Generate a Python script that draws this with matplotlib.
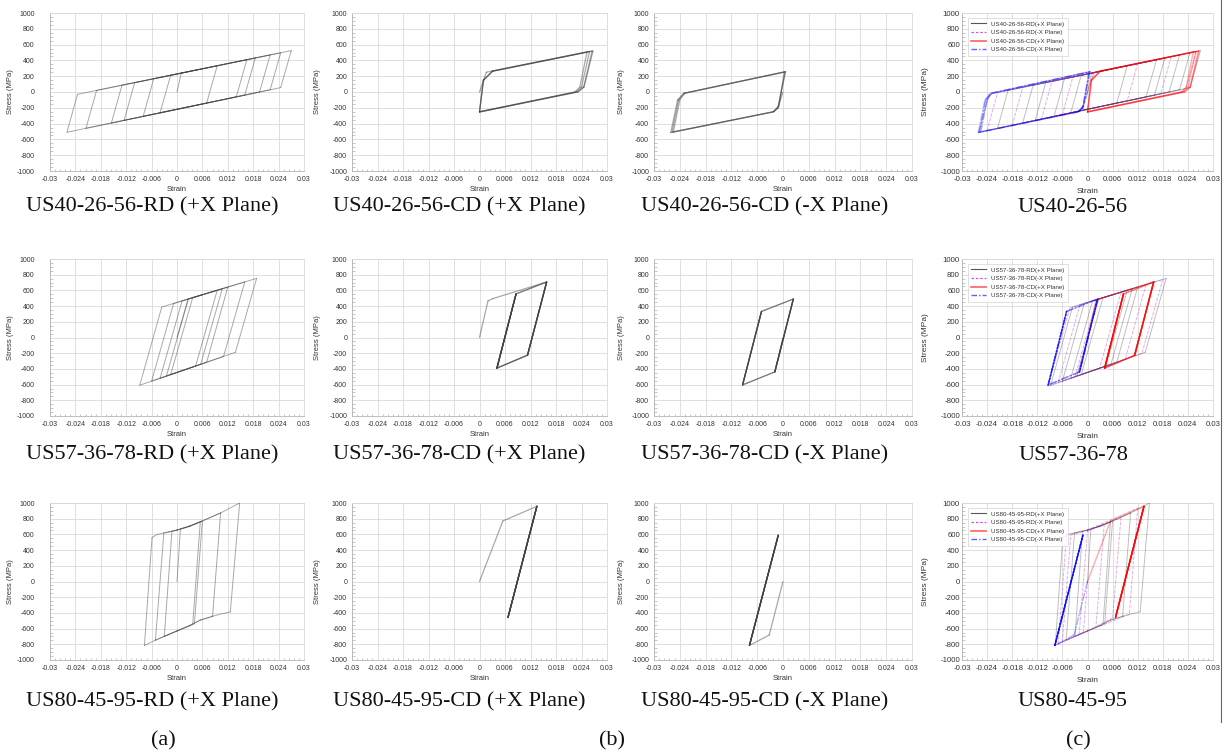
import numpy as np
import matplotlib
matplotlib.use("Agg")
import matplotlib.pyplot as plt
from matplotlib.collections import LineCollection
from matplotlib.lines import Line2D
from matplotlib.ticker import MultipleLocator

plt.rcParams['font.family'] = ['Liberation Sans', 'DejaVu Sans']

# ---------------- data ----------------
specimens = ["US40-26-56", "US57-36-78", "US80-45-95"]
panel_letters = ["(a)", "(b)", "(c)"]

x_ticks = [-0.03, -0.024, -0.018, -0.012, -0.006, 0.0, 0.006, 0.012, 0.018, 0.024, 0.03]
x_tick_labels = ["-0.03", "-0.024", "-0.018", "-0.012", "-0.006", "0",
                 "0.006", "0.012", "0.018", "0.024", "0.03"]
y_ticks = [-1000, -800, -600, -400, -200, 0, 200, 400, 600, 800, 1000]
y_tick_labels = ["-1000", "-800", "-600", "-400", "-200", "0",
                 "200", "400", "600", "800", "1000"]

# US40-26-56
rd40_px_strain = [0.0, 0.0010, 0.0095, 0.0070, -0.0080, -0.0055, 0.0185, 0.0160, -0.0155, -0.0130,
                  0.0220, 0.0195, -0.0215, -0.0190, 0.0245, 0.0220, -0.0260, -0.0235, 0.0270, 0.0245,
                  -0.0125, -0.0100, 0.0165, 0.0140, -0.0040, -0.0015, 0.0050]
rd40_px_stress = [0, 239, 332, -140, -309, 168, 431, -40, -393, 86,
                  469, 0, -460, 20, 497, 28, -510, -29, 524, 56,
                  -359, 118, 409, -62, -264, 212, 283]
rd40_mx_strain = [0.0, -0.0012, -0.0110, -0.0085, 0.0120, 0.0095, -0.0180, -0.0155, 0.0200,
                  0.0175, -0.0240, -0.0215, 0.0260, 0.0235, -0.0060, -0.0035, 0.0030]
rd40_mx_stress = [0, -232, -342, 135, 360, -113, -421, 58, 447,
                  -23, -488, -8, 513, 44, -286, 190, 261]
cd40_px_strain = [0.0, 0.0016, 0.0031, 0.0253, 0.0236, 0.0224, 0.0, 0.0010, 0.0031, 0.0259,
                  0.0240, 0.0228, 0.0, 0.0009, 0.0030, 0.0267, 0.0246, 0.0231, 0.0, 0.0009,
                  0.0031, 0.0265, 0.0245, 0.0232, 0.0]
cd40_px_stress = [0, 250, 268, 508, 60, 0, -250, 150, 262, 513,
                  62, 3, -252, 152, 262, 519, 64, 0, -255, 149,
                  266, 518, 62, 2, -250]
cd40_mx_strain = [0.0, -0.0012, -0.0025, -0.0255, -0.0240, -0.0228, 0.0003, -0.0010, -0.0021,
                  -0.0261, -0.0245, -0.0231, 0.0006, -0.0011, -0.0022, -0.0258, -0.0243, -0.0230,
                  0.0005, -0.0011, -0.0021]
cd40_mx_stress = [0, -210, -255, -505, -100, -15, 252, -180, -248,
                  -513, -100, -17, 258, -186, -250, -510, -100, -16,
                  256, -185, -246]

# US57-36-78
rd57_px_strain = [0.0, 0.0026, 0.0095, 0.0044, -0.0025, 0.0027, 0.0107, 0.0056, -0.0040, 0.0012,
                  0.0160, 0.0110, -0.0060, -0.0008, 0.0188, 0.0138, -0.0088, -0.0036, 0.0120, 0.0070,
                  -0.0015, 0.0037, 0.0060]
rd57_px_stress = [0, 489, 602, -363, -491, 491, 621, -341, -519, 466,
                  708, -241, -556, 434, 753, -189, -608, 388, 643, -316,
                  -473, 507, 545]
rd57_mx_strain = [0.0, -0.0026, -0.0070, -0.0018, 0.0140, 0.0090, -0.0095, -0.0042, 0.0180,
                  0.0130, -0.0030, 0.0022, 0.0080, 0.0029, -0.0050]
rd57_mx_stress = [0, -493, -575, 418, 675, -279, -621, 378, 740,
                  -204, -500, 482, 577, -391, -538]
cd57_px_strain = [0.0, 0.0020, 0.0031, 0.0158, 0.0113, 0.0041, 0.0086, 0.0158, 0.0113, 0.0158,
                  0.0113, 0.0041, 0.0086, 0.0041, 0.0086, 0.0041, 0.0086, 0.0158, 0.0113, 0.0158,
                  0.0113, 0.0041, 0.0086, 0.0041, 0.0086]
cd57_px_stress = [0, 466, 495, 707, -225, -390, 555, 707, -225, 707,
                  -225, -390, 555, -390, 555, -390, 555, 707, -225, 707,
                  -225, -390, 555, -390, 555]
cd57_mx_strain = [0.0, -0.0019, -0.0094, -0.0050, 0.0024, -0.0019, 0.0024, -0.0019, -0.0094,
                  -0.0050, -0.0094, -0.0050, -0.0094, -0.0050, 0.0024, -0.0019, 0.0024, -0.0019]
cd57_mx_stress = [0, -438, -604, 332, 490, -438, 490, -438, -604,
                  332, -604, 332, -604, 332, 490, -438, 490, -438]

# US80-45-95
rd80_px_strain = [0.0, 0.0008, 0.0030, 0.0055, 0.0037, 0.0000, -0.0020, -0.0051, -0.0031, 0.0000,
                  0.0030, 0.0055, 0.0103, 0.0084, 0.0055, 0.0030, 0.0000, -0.0020, -0.0050, -0.0077,
                  -0.0059, -0.0047, -0.0020, 0.0000, 0.0030, 0.0055, 0.0103, 0.0148, 0.0126, 0.0085,
                  0.0055, 0.0030, 0.0000, -0.0030, -0.0012, 0.0000, 0.0030, 0.0060, 0.0041]
rd80_px_stress = [0, 668, 705, 760, -550, -630, -675, -748, 619, 655,
                  705, 760, 873, -445, -492, -560, -630, -675, -745, -814,
                  560, 600, 630, 655, 705, 760, 873, 1000, -386, -440,
                  -492, -560, -630, -700, 640, 655, 705, 772, -545]
rd80_mx_strain = [0.0, -0.0010, -0.0060, -0.0040, 0.0000, 0.0080, 0.0060, 0.0000, -0.0070,
                  -0.0050, 0.0000, 0.0120, 0.0100, 0.0000, -0.0020, 0.0000, 0.0040, 0.0020]
rd80_mx_stress = [0, -652, -770, 590, 655, 815, -465, -630, -795,
                  595, 655, 935, -418, -630, -675, 640, 730, -590]
cd80_px_strain = [0.0, 0.0055, 0.0135, 0.0067, 0.0135, 0.0067, 0.0135, 0.0067, 0.0135,
                  0.0067, 0.0135, 0.0067, 0.0135]
cd80_px_stress = [0, 771, 958, -458, 958, -458, 958, -458, 958,
                  -458, 958, -458, 958]
cd80_mx_strain = [0.0, -0.0032, -0.0078, -0.0011, -0.0078, -0.0011, -0.0078, -0.0011,
                  -0.0078, -0.0011, -0.0078, -0.0011]
cd80_mx_stress = [0, -682, -814, 589, -814, 589, -814, 589,
                  -814, 589, -814, 589]

# tables built from the arrays above
rd_px = [(rd40_px_strain, rd40_px_stress), (rd57_px_strain, rd57_px_stress), (rd80_px_strain, rd80_px_stress)]
rd_mx = [(rd40_mx_strain, rd40_mx_stress), (rd57_mx_strain, rd57_mx_stress), (rd80_mx_strain, rd80_mx_stress)]
cd_px = [(cd40_px_strain, cd40_px_stress), (cd57_px_strain, cd57_px_stress), (cd80_px_strain, cd80_px_stress)]
cd_mx = [(cd40_mx_strain, cd40_mx_stress), (cd57_mx_strain, cd57_mx_stress), (cd80_mx_strain, cd80_mx_stress)]

# ---------------- drawing ----------------
W, H = 1224, 755
fig = plt.figure(figsize=(W / 100, H / 100), dpi=100)
fig.patch.set_facecolor('white')

col_px = [(50, 304), (352, 607), (654, 912), (962, 1213)]
row_px = [(13, 171), (259, 416), (503, 660)]
ytick_pad = [11, 3.5, 3.5, 1.5]
ylabel_x = [-0.142, -0.122, -0.112, -0.131]
title_x = [152, 459, 765, 1073]
title_y = [207, 455, 702]
letter_pos = [(163, 741), (612, 741), (1078, 741)]


def draw_path(ax, data, color, alpha, lw, ls='-'):
    strain, stress = data
    pts = np.column_stack([strain, stress])
    segs = np.stack([pts[:-1], pts[1:]], axis=1)
    lc = LineCollection(segs, colors=color, linewidths=lw, alpha=alpha,
                        linestyles=ls, capstyle='round', joinstyle='round', zorder=3)
    ax.add_collection(lc)


def style_axes(ax, c):
    big = (c == 3)
    fs_tick = 5.6 if big else 5.0
    fs_lab = 6.0 if big else 5.5
    ax.set_xlim(-0.03, 0.03)
    ax.set_ylim(-1000, 1000)
    ax.set_xticks(x_ticks)
    ax.set_xticklabels(x_tick_labels)
    ax.set_yticks(y_ticks)
    ax.set_yticklabels(y_tick_labels)
    ax.xaxis.set_minor_locator(MultipleLocator(0.0012))
    ax.yaxis.set_minor_locator(MultipleLocator(50))
    ax.set_axisbelow(True)
    ax.grid(True, which='major', color='#d9d9d9', lw=0.6)
    ax.tick_params(which='major', length=0, labelsize=fs_tick, colors='#333333')
    ax.tick_params(axis='y', which='major', pad=ytick_pad[c])
    ax.tick_params(axis='x', which='major', pad=3.5)
    ax.tick_params(which='minor', direction='in', length=1.8, width=0.4, color='#9a9a9a')
    for side in ['top', 'right']:
        ax.spines[side].set_color('#d9d9d9')
        ax.spines[side].set_linewidth(0.6)
    for side in ['left', 'bottom']:
        ax.spines[side].set_color('#b5b5b5')
        ax.spines[side].set_linewidth(0.6)
    ax.set_xlabel('Strain', fontsize=fs_lab, color='#333333')
    ax.set_ylabel('Stress (MPa)', fontsize=fs_lab, color='#333333')
    ax.xaxis.set_label_coords(0.5, -0.095 if not big else -0.11)
    ax.yaxis.set_label_coords(ylabel_x[c], 0.5)


grey = '#404040'
for r in range(3):
    name = specimens[r]
    titles = [f"{name}-RD (+X Plane)", f"{name}-CD (+X Plane)", f"{name}-CD (-X Plane)", name]
    for c in range(4):
        l, rt = col_px[c]
        t, b = row_px[r]
        ax = fig.add_axes([l / W, 1 - b / H, (rt - l) / W, (b - t) / H])
        style_axes(ax, c)
        if c == 0:
            draw_path(ax, rd_px[r], grey, 0.45, 0.7)
        elif c == 1:
            draw_path(ax, cd_px[r], grey, 0.45, 0.9)
        elif c == 2:
            draw_path(ax, cd_mx[r], grey, 0.45, 0.9)
        else:
            draw_path(ax, rd_px[r], '#000000', 0.25, 0.7)
            draw_path(ax, rd_mx[r], '#b030c0', 0.38, 0.7, ls=(0, (3, 2)))
            draw_path(ax, cd_px[r], '#ff0000', 0.32, 1.0)
            draw_path(ax, cd_mx[r], '#0000ff', 0.32, 1.0, ls=(0, (5, 1.5, 1, 1.5)))
            handles = [
                Line2D([], [], color='#555555', lw=0.8),
                Line2D([], [], color='#cc55dd', lw=0.9, ls=(0, (2, 1.5))),
                Line2D([], [], color='#ff6060', lw=1.2),
                Line2D([], [], color='#6060ff', lw=1.0, ls=(0, (4, 1.5, 1, 1.5))),
            ]
            labels = [f"{name}-RD(+X Plane)", f"{name}-RD(-X Plane)",
                      f"{name}-CD(+X Plane)", f"{name}-CD(-X Plane)"]
            leg = ax.legend(handles, labels, loc='upper left', fontsize=4.4,
                            handlelength=2.4, handletextpad=0.8, labelspacing=0.55,
                            borderpad=0.6, frameon=True, fancybox=False,
                            bbox_to_anchor=(0.01, 0.99))
            leg.get_frame().set_edgecolor('#c8c8c8')
            leg.get_frame().set_linewidth(0.5)
            for txt in leg.get_texts():
                txt.set_color('#333333')
        fig.text(title_x[c] / W, 1 - title_y[r] / H, titles[c], ha='center', va='center',
                 fontsize=16, family='Liberation Serif', color='#111111')

for (lx, ly), letter in zip(letter_pos, panel_letters):
    fig.text(lx / W, 1 - ly / H, letter, ha='center', va='center',
             fontsize=16, family='Liberation Serif', color='#111111')

# thin vertical frame line at the right edge of the reference image
fig.add_artist(Line2D([1221 / W, 1221 / W], [1 - 722 / H, 1.0], transform=fig.transFigure,
                      color='#666666', lw=0.8))

fig.savefig('out.png', dpi=100, facecolor='white')
